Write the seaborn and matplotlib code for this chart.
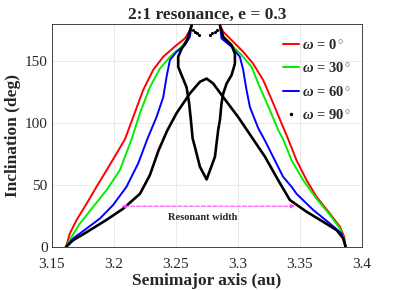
import matplotlib
matplotlib.use("Agg")
import matplotlib.pyplot as plt
from matplotlib.lines import Line2D
import seaborn as sns

# libration boundaries (a in au, i in deg)
red_left_a = [3.1613, 3.1645, 3.1699, 3.178, 3.186, 3.1941, 3.2022, 3.2089, 3.2156, 3.2236,
              3.2317, 3.2398, 3.2505, 3.2573, 3.2613, 3.2627]
red_left_i = [0, 11, 21.8, 35, 48.7, 62, 75.6, 87, 105, 126.7, 143, 153.6, 163, 168.4, 175, 179]
red_right_a = [3.2855, 3.2882, 3.2962, 3.3043, 3.3123, 3.3204, 3.3285, 3.3352, 3.3406, 3.3473,
               3.3554, 3.3634, 3.3742, 3.3823, 3.3857, 3.3869]
red_right_i = [179, 173.8, 165.7, 157.6, 148, 134.8, 116, 99.8, 87, 70, 54, 40.6, 27, 16.4, 8.3, 0]

green_left_a = [3.1613, 3.1659, 3.1726, 3.1833, 3.1941, 3.2048, 3.2143, 3.221, 3.229, 3.2371,
                3.2452, 3.2546, 3.26, 3.2627]
green_left_i = [0, 8.3, 19, 32.5, 46, 62, 87, 108, 129, 144, 153.6, 161.7, 168.4, 179]
green_right_a = [3.2855, 3.2868, 3.2949, 3.303, 3.311, 3.3177, 3.3258, 3.3325, 3.3365, 3.3433,
                 3.3527, 3.3634, 3.3742, 3.3823, 3.3857, 3.3869]
green_right_i = [179, 171, 163, 155, 145.5, 129, 110.6, 94.4, 87, 70, 54, 39, 26, 15, 6, 0]

blue_left_a = [3.1613, 3.1672, 3.178, 3.1887, 3.1994, 3.2102, 3.2196, 3.2269, 3.2344, 3.2398,
               3.2425, 3.2452, 3.2505, 3.2573, 3.2613, 3.2627]
blue_left_i = [0, 7, 15, 23, 34, 48.7, 67.5, 87, 105, 121, 137.5, 151, 157.6, 163, 169.7, 179]
blue_right_a = [3.2855, 3.2868, 3.2949, 3.3016, 3.3043, 3.3056, 3.307, 3.3097, 3.3164, 3.3218,
                3.3298, 3.3365, 3.3433, 3.3473, 3.3607, 3.3742, 3.3836, 3.3869]
blue_right_i = [179, 168.4, 161.7, 153.6, 143, 134.8, 126.7, 113, 96, 86, 70, 56.7, 48.7, 43, 30, 19, 11, 0]

# omega = 90 deg: outer arch, inner "wine glass" and dotted tips
black_outer_a = [3.1613, 3.1672, 3.178, 3.1941, 3.2075, 3.221, 3.2290, 3.2360, 3.2430, 3.2505,
                 3.2613, 3.2694, 3.2748, 3.2801, 3.2882, 3.3002, 3.311, 3.3218, 3.3325, 3.3419,
                 3.3554, 3.3688, 3.3796, 3.385, 3.3869]
black_outer_i = [0, 5.6, 12, 22, 31, 43, 58, 78, 94, 108,
                 124, 133.4, 136, 132, 121, 105, 89, 73, 54, 38,
                 28.5, 20.4, 13.7, 7, 0]
black_inner_a = [3.2627, 3.2590, 3.2546, 3.2519, 3.2519, 3.2546, 3.2586, 3.2607, 3.2621, 3.2635,
                 3.2653, 3.2694, 3.2748, 3.2815, 3.2841, 3.2855, 3.2868, 3.2882, 3.2909, 3.2949,
                 3.2976, 3.2976, 3.2949, 3.2882, 3.2855]
black_inner_i = [179, 167, 160, 153.6, 145.5, 138.8, 129, 116, 102.5, 87.7,
                 81, 64.8, 54.6, 72.9, 94.4, 102.5, 116, 124, 132, 138.8,
                 148, 156, 163, 169.7, 179]
black_dot_a = [3.2637, 3.2655, 3.2672, 3.2690, 3.2775, 3.2793, 3.2812, 3.2830]
black_dot_i = [175.5, 174, 172.5, 171, 171, 172.5, 174, 175.5]

width_a = [3.2062, 3.346]
width_i = 33

sns.set_theme(style="whitegrid")
plt.rcParams["font.family"] = ["Liberation Serif", "DejaVu Serif"]
plt.rcParams["mathtext.fontset"] = "custom"
plt.rcParams["mathtext.it"] = "Liberation Serif:italic:bold"
plt.rcParams["mathtext.rm"] = "Liberation Serif:bold"

fig, ax = plt.subplots(figsize=(3.99, 2.90), dpi=100)
fig.subplots_adjust(left=0.130, right=0.907, bottom=0.148, top=0.917)

lw = 1.4
colors = {"red": "#ff0000", "green": "#00ee00", "blue": "#0000ff"}
for xs, ys, c in [(red_left_a, red_left_i, colors["red"]),
                  (red_right_a, red_right_i, colors["red"]),
                  (green_left_a, green_left_i, colors["green"]),
                  (green_right_a, green_right_i, colors["green"]),
                  (blue_left_a, blue_left_i, colors["blue"]),
                  (blue_right_a, blue_right_i, colors["blue"])]:
    sns.lineplot(x=xs, y=ys, sort=False, estimator=None, color=c, lw=lw, ax=ax)

sns.lineplot(x=black_outer_a, y=black_outer_i, sort=False, estimator=None, color="black", lw=1.9, ax=ax)
sns.lineplot(x=black_inner_a, y=black_inner_i, sort=False, estimator=None, color="black", lw=1.9, ax=ax)
ax.plot(black_dot_a, black_dot_i, ls="none", marker=".", ms=2.5, color="black")

ax.annotate("", xy=(width_a[0], width_i), xytext=(width_a[1], width_i),
            arrowprops=dict(arrowstyle="<|-|>", ls="--", color="#ff44ff", lw=0.8,
                            mutation_scale=6, shrinkA=0, shrinkB=0))
ax.text(3.272, width_i - 9, "Resonant width", fontsize=7.5, fontweight="bold",
        ha="center", va="center")

handles = [Line2D([], [], color=colors["red"], lw=lw),
           Line2D([], [], color=colors["green"], lw=lw),
           Line2D([], [], color=colors["blue"], lw=lw),
           Line2D([], [], color="black", ls="none", marker=".", ms=3)]
labels = [r"$\omega$ = 0$^\circ$", r"$\omega$ = 30$^\circ$", r"$\omega$ = 60$^\circ$", r"$\omega$ = 90$^\circ$"]
ax.legend(handles, labels, loc="upper right", frameon=False,
          handlelength=1.1, handletextpad=0.25, labelspacing=0.65,
          borderaxespad=0, bbox_to_anchor=(0.985, 0.965),
          prop={"weight": "bold", "size": 10.5})

ax.set_xlim(3.15, 3.4)
ax.set_ylim(0, 180)
ax.set_xticks([3.15, 3.2, 3.25, 3.3, 3.35, 3.4])
ax.set_xticklabels(["3.15", "3.2", "3.25", "3.3", "3.35", "3.4"])
ax.set_yticks([0, 50, 100, 150])
ax.tick_params(labelsize=11, direction="in", length=3, colors="#262626")
ax.tick_params(axis="x", pad=8)
ax.tick_params(axis="y", pad=3)
ax.grid(True, color="#e6e6e6", lw=0.6)
for s in ax.spines.values():
    s.set_color("#262626")
    s.set_linewidth(0.6)
    s.set_visible(True)

ax.set_xlabel("Semimajor axis (au)", fontsize=12.5, fontweight="bold", labelpad=1)
ax.set_ylabel("Inclination (deg)", fontsize=12.5, fontweight="bold", labelpad=3)
ax.set_title("2:1 resonance, e = 0.3", fontsize=12.5, fontweight="bold", pad=4)

fig.savefig("out.png", dpi=100)
